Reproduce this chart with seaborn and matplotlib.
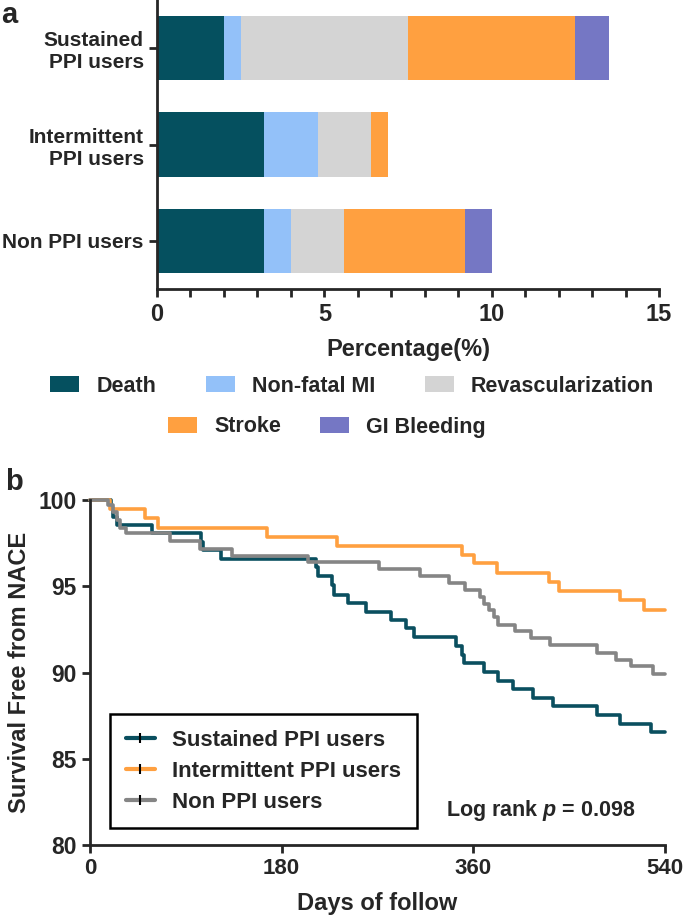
import matplotlib
matplotlib.use("Agg")
import matplotlib.pyplot as plt
from matplotlib.lines import Line2D
from matplotlib.patches import Patch
from matplotlib.ticker import MultipleLocator
import numpy as np
import pandas as pd
import seaborn as sns

# panel a: composition of NACE events (%)
groups = ["Sustained\nPPI users", "Intermittent\nPPI users", "Non PPI users"]
death = [2.0, 3.2, 3.2]
nonfatal_mi = [0.5, 1.6, 0.8]
revasc = [5.0, 1.6, 1.6]
stroke = [5.0, 0.5, 3.6]
gi_bleeding = [1.0, 0.0, 0.8]
event_names = ["Death", "Non-fatal MI", "Revascularization", "Stroke", "GI Bleeding"]
event_colors = ["#05505F", "#93C1F9", "#D4D4D4", "#FFA040", "#7577C4"]

# panel b: Kaplan-Meier steps (day of event, survival % after it)
km_groups = ["Sustained PPI users", "Intermittent PPI users", "Non PPI users"]
km_colors = ["#0A4F5F", "#FFA040", "#858585"]
sustained_days = [0, 20, 22, 25, 58, 104, 106, 123, 212, 214, 227, 229, 242, 259, 283,
                  297, 304, 344, 349, 351, 370, 383, 397, 416, 435, 476, 498, 527, 540]
sustained_surv = [100, 99.51, 99.04, 98.55, 98.07, 97.59, 97.10, 96.60, 96.10, 95.59, 95.08,
                  94.52, 94.02, 93.51, 93.04, 92.57, 92.06, 91.53, 91.02, 90.54, 90.05, 89.53,
                  89.03, 88.51, 88.04, 87.53, 87.02, 86.54, 86.54]
intermittent_days = [0, 19, 52, 64, 166, 232, 349, 361, 382, 431, 440, 498, 520, 540]
intermittent_surv = [100, 99.46, 98.93, 98.39, 97.87, 97.34, 96.84, 96.33, 95.79, 95.27,
                     94.73, 94.20, 93.63, 93.63]
non_days = [0, 17, 22, 25, 28, 34, 75, 103, 133, 205, 271, 310, 337, 352, 366, 370,
            375, 379, 383, 399, 414, 432, 476, 494, 508, 529, 540]
non_surv = [100, 99.7, 99.3, 98.84, 98.36, 98.07, 97.62, 97.16, 96.76, 96.40, 96.00,
            95.60, 95.19, 94.81, 94.40, 93.98, 93.61, 93.24, 92.76, 92.38, 91.99, 91.59,
            91.15, 90.73, 90.35, 89.91, 89.91]

sns.set_style("ticks")
plt.rcParams["font.family"] = ["Liberation Sans", "DejaVu Sans"]
plt.rcParams["font.weight"] = "bold"
plt.rcParams["axes.labelweight"] = "bold"
plt.rcParams["mathtext.fontset"] = "custom"
plt.rcParams["mathtext.rm"] = "Liberation Sans:bold"
plt.rcParams["mathtext.it"] = "Liberation Sans:italic:bold"

fig = plt.figure(figsize=(6.85, 9.17), dpi=100)

# ---------- panel a ----------
ax1 = fig.add_axes([157 / 685, 1 - 289 / 917, 502 / 685, 289 / 917])
cum = np.cumsum([death, nonfatal_mi, revasc, stroke, gi_bleeding], axis=0)
# draw cumulative totals from the largest down so the stacks show through
for i in reversed(range(len(event_names))):
    sns.barplot(x=cum[i], y=groups, order=groups, color=event_colors[i], orient="h",
                width=0.67, saturation=1, edgecolor="none", linewidth=0, ax=ax1)
ax1.set_xlim(0, 15)
ax1.set_ylim(2.5, -0.5)
ax1.xaxis.set_major_locator(MultipleLocator(5))
ax1.xaxis.set_minor_locator(MultipleLocator(1))
ax1.set_ylabel("")
ax1.set_xlabel("Percentage(%)", fontsize=17, labelpad=9)
for s in ["top", "right"]:
    ax1.spines[s].set_visible(False)
for s in ["left", "bottom"]:
    ax1.spines[s].set_linewidth(2)
ax1.tick_params(axis="both", which="both", width=2, length=6)
ax1.tick_params(axis="x", which="major", labelsize=17, pad=4)
ax1.tick_params(axis="y", labelsize=15)
for lab in ax1.get_yticklabels():
    lab.set_horizontalalignment("right")
    lab.set_multialignment("right")

handles = [Patch(facecolor=c, edgecolor="none") for c in event_colors]
fig.legend(handles[:3], event_names[:3], loc="center", bbox_to_anchor=(352 / 685, 1 - 386 / 917),
           ncol=3, frameon=False, fontsize=15.5, handlelength=1.35, handleheight=0.7,
           handletextpad=0.8, columnspacing=2.3)
fig.legend(handles[3:], event_names[3:], loc="center", bbox_to_anchor=(327 / 685, 1 - 427 / 917),
           ncol=2, frameon=False, fontsize=15.5, handlelength=1.35, handleheight=0.7,
           handletextpad=0.8, columnspacing=1.8)
fig.text(1 / 685, 1 - 1 / 917, "a", fontsize=21, fontweight="bold", va="top", ha="left")

# ---------- panel b ----------
ax2 = fig.add_axes([90 / 685, 1 - 845 / 917, 575 / 685, 345 / 917])
km = pd.concat([
    pd.DataFrame({"day": sustained_days, "surv": sustained_surv, "group": km_groups[0]}),
    pd.DataFrame({"day": intermittent_days, "surv": intermittent_surv, "group": km_groups[1]}),
    pd.DataFrame({"day": non_days, "surv": non_surv, "group": km_groups[2]}),
], ignore_index=True)
sns.lineplot(data=km, x="day", y="surv", hue="group", hue_order=km_groups, palette=km_colors,
             estimator=None, sort=False, drawstyle="steps-post", linewidth=2.6,
             legend=False, clip_on=False, ax=ax2)
ax2.set_xlim(0, 540)
ax2.set_ylim(80, 100)
ax2.set_xticks([0, 180, 360, 540])
ax2.set_yticks([80, 85, 90, 95, 100])
ax2.set_xlabel("Days of follow", fontsize=17, labelpad=9)
ax2.set_ylabel("Survival Free from NACE", fontsize=17)
ax2.yaxis.set_label_coords(-0.103, 0.5)
for s in ["top", "right"]:
    ax2.spines[s].set_visible(False)
for s in ["left", "bottom"]:
    ax2.spines[s].set_linewidth(2)
ax2.tick_params(axis="both", width=2, length=6, labelsize=16.5)
ax2.tick_params(axis="x", labelsize=16)

km_handles = [Line2D([0], [0], color=c, lw=3, marker="|", markersize=7,
                     markeredgecolor="black", markeredgewidth=1.5) for c in km_colors]
leg = ax2.legend(km_handles, km_groups, loc="lower left", bbox_to_anchor=(0.035, 0.049),
                 frameon=True, fancybox=False, edgecolor="black", framealpha=1,
                 fontsize=16, handlelength=1.3, handletextpad=0.8, labelspacing=0.45,
                 borderpad=0.7, borderaxespad=0)
leg.get_frame().set_linewidth(1.8)
ax2.text(0.62, 0.10, "Log rank $\\it{p}$ = 0.098", transform=ax2.transAxes,
         fontsize=15.5, fontweight="bold", va="center", ha="left")
fig.text(5 / 685, 1 - 468 / 917, "b", fontsize=21, fontweight="bold", va="top", ha="left")

fig.savefig("out.png", dpi=100)
